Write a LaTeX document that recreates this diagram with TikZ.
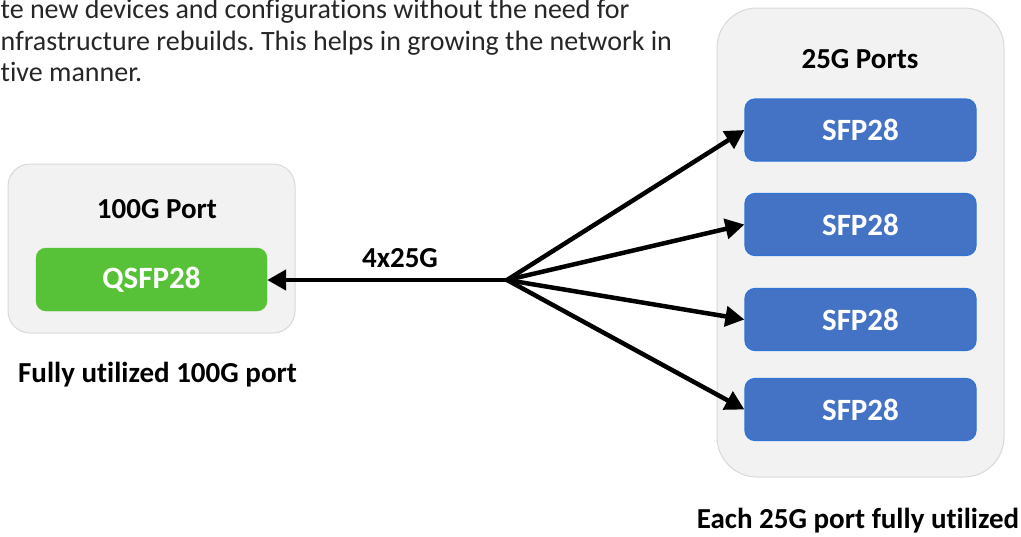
\documentclass[tikz,border=0pt]{standalone}
\usepackage{fontspec}
\setmainfont{Carlito}[RawFeature={-liga;-dlig;-clig}]
\usetikzlibrary{arrows.meta}
\definecolor{panelfill}{RGB}{242,242,242}
\definecolor{paneldraw}{RGB}{217,217,217}
\definecolor{qgreen}{RGB}{87,194,56}
\definecolor{sblue}{RGB}{68,114,196}
\definecolor{sblueedge}{RGB}{46,117,214}
\definecolor{bodytext}{RGB}{38,38,38}
\tikzset{
  panel/.style={draw=paneldraw, line width=1pt, fill=panelfill, inner sep=0pt,
    minimum width=287pt},
  portbox/.style={inner sep=0pt, minimum width=231pt, text=white,
    font=\fontsize{31}{36}\selectfont\bfseries},
  qbox/.style={portbox, fill=qgreen, draw=qgreen, minimum height=63pt, rounded corners=10pt},
  sbox/.style={portbox, fill=sblue, draw=sblueedge, line width=1.2pt, minimum height=62pt, rounded corners=10pt},
  lbl/.style={inner sep=0pt, font=\fontsize{29}{34}\selectfont\bfseries, text=black},
  body/.style={inner sep=0pt, font=\fontsize{28}{32}\selectfont\frenchspacing, text=bodytext, anchor=base west},
  link/.style={line width=4.5pt, -{Triangle[length=19pt,width=20pt]}},
}
\begin{document}
\begin{tikzpicture}[x=1pt,y=-1pt]
\useasboundingbox (0,0) rectangle (1021,536);
\clip (0,0) rectangle (1021,536);
% top paragraph (cut off at the left)
\node[body] (t1) at (0.5,18) {te new devices and configurations without the need for};
\node[body] (t2) at (0.5,50) {nfrastructure rebuilds. This helps in growing the network in};
\node[body] (t3) at (0.5,81) {tive manner.};
% panels
\node[panel, minimum height=169pt, rounded corners=22pt] (lp) at (151.5,248.5) {};
\node[panel, minimum height=469pt, rounded corners=40pt] (rp) at (860.5,242.5) {};
% titles
\node[lbl, anchor=base] (lt) at (157,218) {100G Port};
\node[lbl, anchor=base] (rt) at (860,68) {25G Ports};
% ports
\node[qbox] (q) at (151.5,279.5) {QSFP28};
\node[sbox] (s1) at (860.5,130) {SFP28};
\node[sbox] (s2) at (860.5,224.5) {SFP28};
\node[sbox] (s3) at (860.5,319.5) {SFP28};
\node[sbox] (s4) at (860.5,409.5) {SFP28};
% connectors
\coordinate (j) at (507,280);
\draw[link] (j) -- (q.east |- j);
\draw[link] (j) -- (s1.west);
\draw[link] (j) -- (s2.west);
\draw[link] (j) -- (s3.west);
\draw[link] (j) -- (s4.west);
\node[lbl, anchor=base] (bw) at (400,267) {4x25G};
% captions
\node[lbl, anchor=base] (lc) at (157.5,382) {Fully utilized 100G port};
\node[lbl, anchor=base] (rc) at (858,528) {Each 25G port fully utilized};
\end{tikzpicture}
\end{document}
